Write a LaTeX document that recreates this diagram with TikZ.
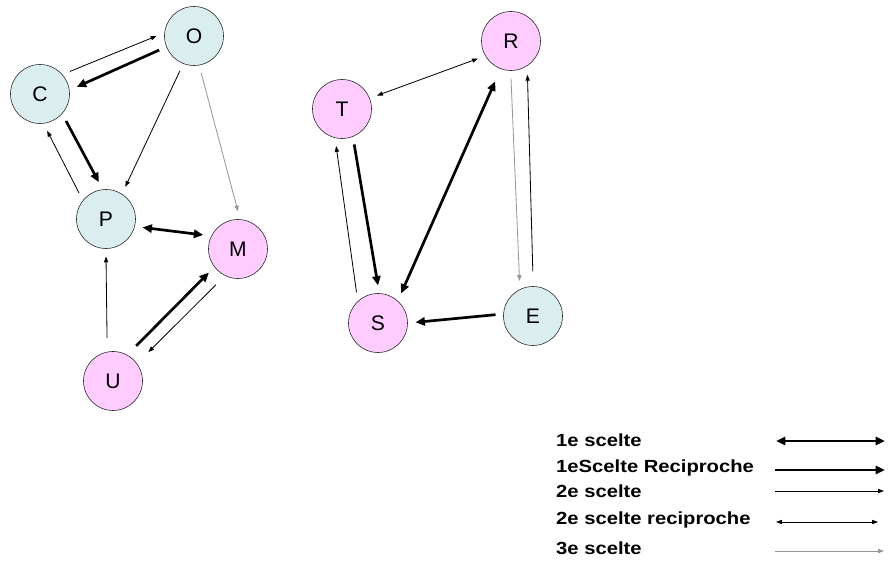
\documentclass[tikz,border=0pt]{standalone}
\usepackage{fontspec}
\setmainfont{Liberation Sans}
\usetikzlibrary{arrows.meta,positioning}

\definecolor{cyanfill}{RGB}{218,237,239}
\definecolor{pinkfill}{RGB}{255,204,255}
\definecolor{greyline}{RGB}{150,150,150}

\tikzset{
  cnode/.style={circle,draw=black!85,line width=0.5pt,fill=cyanfill,minimum size=1.77cm,inner sep=0pt,outer sep=0.24cm,font=\fontsize{18}{18}\selectfont},
  pnode/.style={cnode,fill=pinkfill},
  leg/.style={anchor=west,inner sep=0pt,font=\bfseries\fontsize{15}{15}\selectfont},
  big/.tip={Triangle[length=8pt,width=7pt]},
  small/.tip={Triangle[length=5pt,width=3.6pt]},
  scelta1/.style={line width=2.3pt,big-big},
  recip1/.style={line width=2.3pt,-big},
  scelta2/.style={line width=0.7pt,-small},
  recip2/.style={line width=0.7pt,small-small},
  scelta3/.style={line width=0.7pt,greyline,-small}
}

\begin{document}
\begin{tikzpicture}[x=0.03cm,y=-0.03cm]

\useasboundingbox (0,0) rectangle (888,562);

\node(O)[cnode] at (194,36){O};

\node(C)[cnode] at (40,94){C};

\node(P)[cnode] at (106,219){P};

\node(M)[pnode] at (238,249){M};

\node(U)[pnode] at (113,381){U};

\node(R)[pnode] at (511,41){R};

\node(T)[pnode] at (342,109){T};

\node(S)[pnode] at (378,323){S};

\node(E)[cnode] at (533,316){E};

\draw [scelta2] (C.37) -- (O.180);
\draw [recip1] (O.202) -- (C.11);
\draw [recip1] (C.-46) -- (P.101);
\draw [scelta2] (P.136) -- (C.-79);
\draw [scelta2] (O.248) -- (P.59);
\draw [scelta3] (O.-79) -- (M.90);
\draw [scelta1] (P.-13) -- (M.158);
\draw [scelta2,shorten <=5pt] (U.99) -- (P.-90);
\draw [recip1,shorten <=4pt] (U.58) -- (M.219);
\draw [scelta2,shorten <=4pt,shorten >=7pt] (M.240) -- (U.38);

\draw [recip2] (T.21) -- (R.208);
\draw [recip1] (T.-71) -- (S.90);
\draw [scelta2] (S.125) -- (T.-99);
\draw [scelta1,shorten >=5pt] (S.52) -- (R.249);
\draw [scelta3] (R.-90) -- (E.111);
\draw [scelta2,shorten <=6pt] (E.90) -- (R.-64);
\draw [recip1] (E.178) -- (S.1);

% legenda
\node(l1)[leg] at (556,440){\scalebox{1.15}[1]{1e scelte}};
\node(l2)[leg] at (556,468){\scalebox{1.15}[1]{1eScelte Reciproche}};
\node(l3)[leg] at (556,491){\scalebox{1.15}[1]{2e scelte}};
\node(l4)[leg] at (556,520){\scalebox{1.15}[1]{2e scelte reciproche}};
\node(l5)[leg] at (556,548){\scalebox{1.15}[1]{3e scelte}};

\coordinate(a1) at (776,441);
\coordinate(b1) at (885,441);
\coordinate(a2) at (775,470);
\coordinate(b2) at (885,470);
\coordinate(a3) at (775,491);
\coordinate(b3) at (884,491);
\coordinate(a4) at (776,522);
\coordinate(b4) at (878,522);
\coordinate(a5) at (775,551);
\coordinate(b5) at (884,551);

\draw [scelta1] (a1) -- (b1);
\draw [recip1] (a2) -- (b2);
\draw [scelta2] (a3) -- (b3);
\draw [recip2] (a4) -- (b4);
\draw [scelta3] (a5) -- (b5);

\end{tikzpicture}
\end{document}
